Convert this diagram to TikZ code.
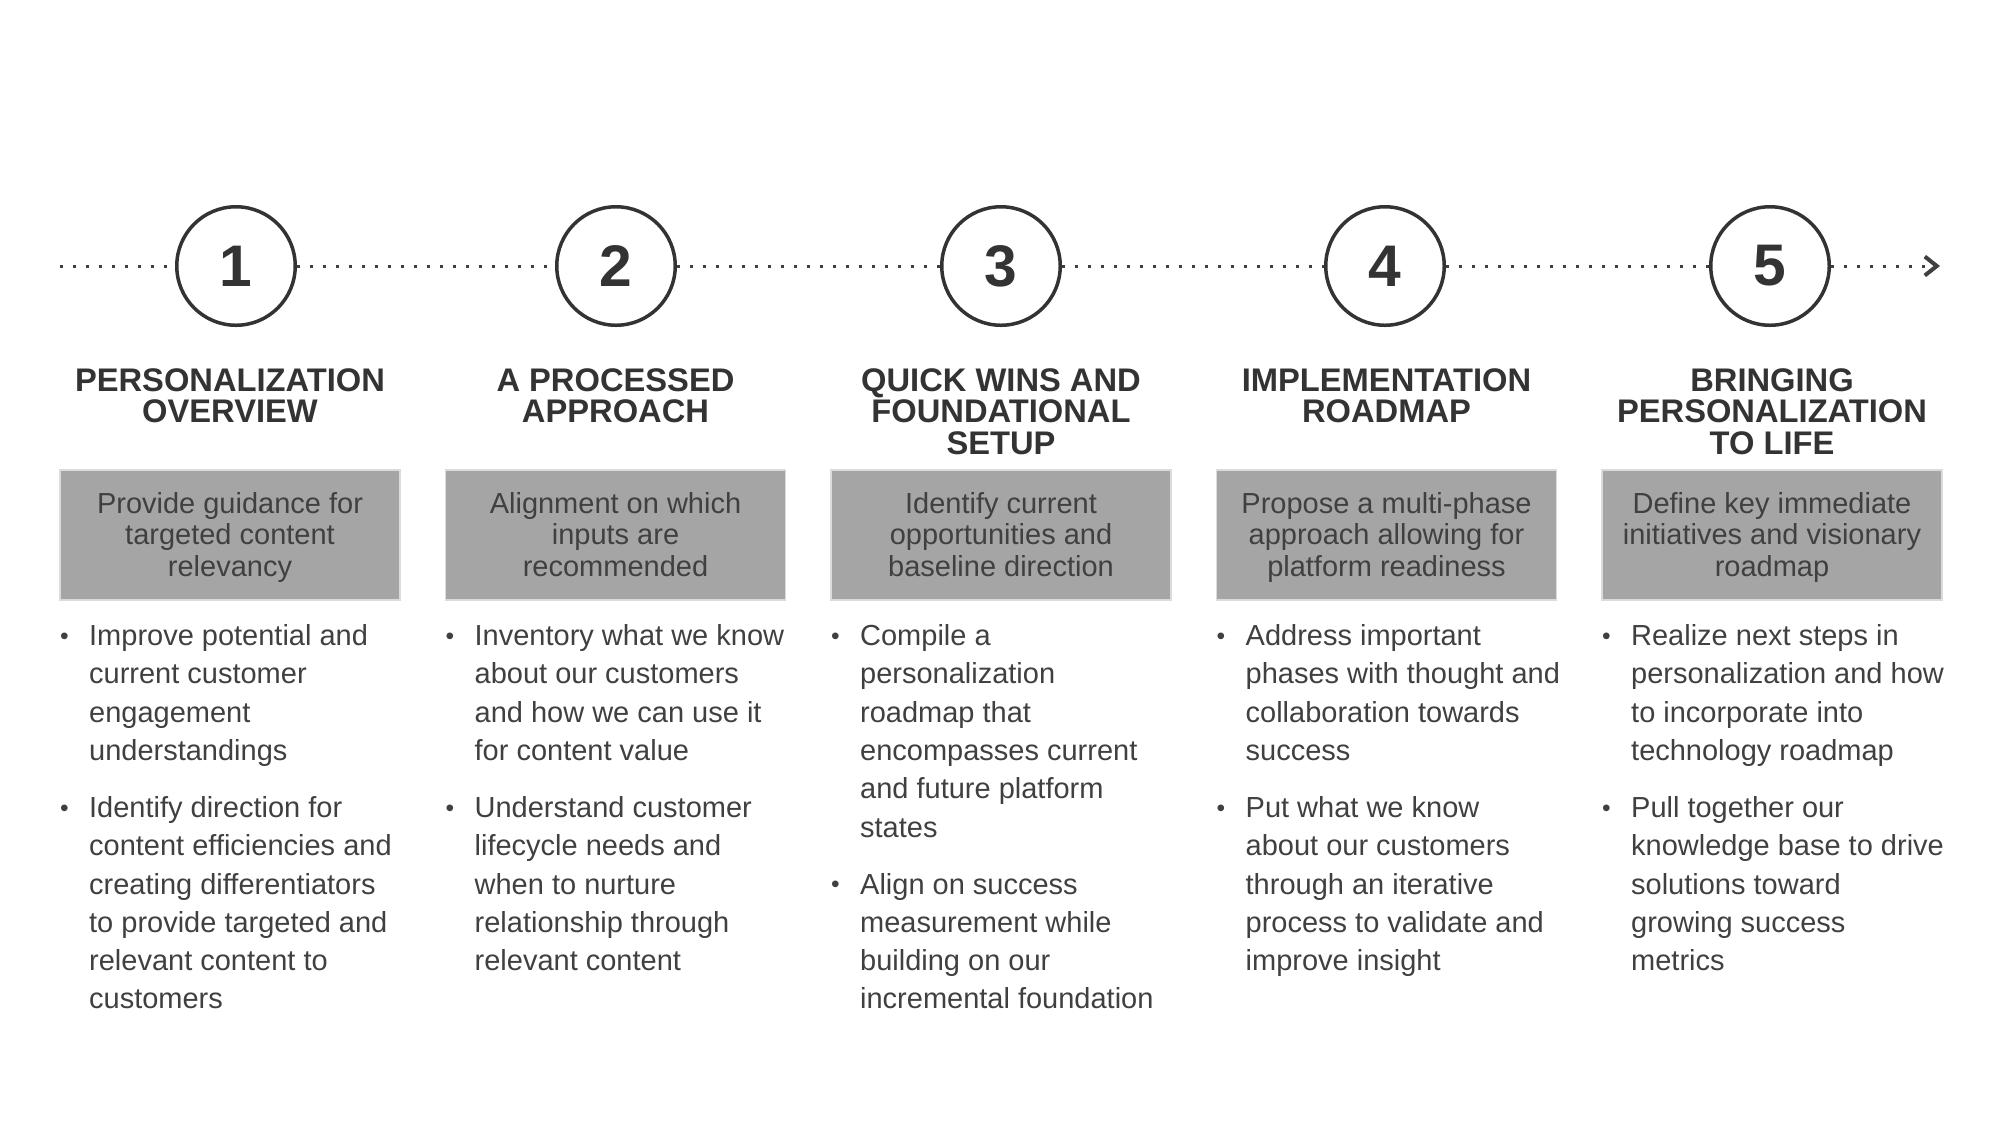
\documentclass[tikz,border=0pt]{standalone}
\usepackage{fontspec}
\setmainfont{Liberation Sans}
\usetikzlibrary{arrows.meta}
\definecolor{inkdark}{HTML}{333333}
\definecolor{inktext}{HTML}{404040}
\definecolor{boxgrey}{HTML}{A5A5A5}
\def\bul{\makebox[0.29cm][l]{\fontsize{7}{7}\selectfont\raisebox{0.3pt}{\textbullet}}}
\tikzset{
	numcirc/.style={circle, draw=inkdark, line width=0.035cm, minimum size=1.185cm, inner sep=0pt, text=inkdark, font=\fontsize{16.7}{20}\selectfont\bfseries},
	headline/.style={anchor=north, align=center, inner sep=0pt, text=inkdark, font=\fontsize{9.3}{8.96}\selectfont\bfseries},
	greybox/.style={fill=boxgrey, draw=black!14, line width=0.3pt, minimum width=3.4cm, minimum height=1.3cm, inner sep=0pt},
	boxtext/.style={anchor=north, align=center, inner sep=0pt, text=inktext, font=\fontsize{8.25}{8.96}\selectfont},
	bulletlist/.style={anchor=base west, inner sep=0pt, text=inktext, font=\fontsize{8.25}{10.9}\selectfont},
	dotline/.style={draw=inktext, line width=0.03cm, dash pattern=on 0.03cm off 0.10cm}
}

\begin{document}
\begin{tikzpicture}
		%%%%% START %%%%%
		\useasboundingbox (0, 0) rectangle (20, -11.25);
		
		\node[numcirc] (c1) at (2.36, -2.66) {1};
		\node[numcirc] (c2) at (6.16, -2.66) {2};
		\node[numcirc] (c3) at (10.01, -2.66) {3};
		\node[numcirc] (c4) at (13.85, -2.66) {4};
		\node[numcirc] (c5) at (17.70, -2.66) {5};
		\coordinate (tl start) at (0.60, -2.66);
		\coordinate (tl end) at (19.40, -2.66);
		
		\draw[dotline] (tl start) -- (c1);
		\draw[dotline] (c1) -- (c2);
		\draw[dotline] (c2) -- (c3);
		\draw[dotline] (c3) -- (c4);
		\draw[dotline] (c4) -- (c5);
		\draw[dotline, -{Straight Barb[length=0.12cm, width=0.19cm, line width=0.04cm]}] (c5) -- (tl end);
		
		\node[headline] (h1) at (2.30, -3.678) {PERSONALIZATION\\OVERVIEW};
		\node[headline] (h2) at (6.155, -3.678) {A PROCESSED\\APPROACH};
		\node[headline] (h3) at (10.01, -3.678) {QUICK WINS AND\\FOUNDATIONAL\\SETUP};
		\node[headline] (h4) at (13.865, -3.678) {IMPLEMENTATION\\ROADMAP};
		\node[headline] (h5) at (17.72, -3.678) {BRINGING\\PERSONALIZATION\\TO LIFE};
		
		\node[greybox] (b1) at (2.30, -5.35) {};
		\node[greybox] (b2) at (6.155, -5.35) {};
		\node[greybox] (b3) at (10.01, -5.35) {};
		\node[greybox] (b4) at (13.865, -5.35) {};
		\node[greybox] (b5) at (17.72, -5.35) {};
		
		\node[boxtext] (d1) at ([yshift=-0.22cm]b1.north) {Provide guidance for\\targeted content\\relevancy};
		\node[boxtext] (d2) at ([yshift=-0.22cm]b2.north) {Alignment on which\\inputs are\\recommended};
		\node[boxtext] (d3) at ([yshift=-0.22cm]b3.north) {Identify current\\opportunities and\\baseline direction};
		\node[boxtext] (d4) at ([yshift=-0.22cm]b4.north) {Propose a multi-phase\\approach allowing for\\platform readiness};
		\node[boxtext] (d5) at ([yshift=-0.22cm]b5.north) {Define key immediate\\initiatives and visionary\\roadmap};
		
		\node[bulletlist] (l1) at ([yshift=-0.45cm]b1.south west) {\begin{tabular}[t]{@{}l@{}l@{}}
			\bul & Improve potential and\\ & current customer\\ & engagement\\ & understandings\\[5.3pt]
			\bul & Identify direction for\\ & content efficiencies and\\ & creating differentiators\\ & to provide targeted and\\ & relevant content to\\ & customers
		\end{tabular}};
		\node[bulletlist] (l2) at ([yshift=-0.45cm]b2.south west) {\begin{tabular}[t]{@{}l@{}l@{}}
			\bul & Inventory what we know\\ & about our customers\\ & and how we can use it\\ & for content value\\[5.3pt]
			\bul & Understand customer\\ & lifecycle needs and\\ & when to nurture\\ & relationship through\\ & relevant content
		\end{tabular}};
		\node[bulletlist] (l3) at ([yshift=-0.45cm]b3.south west) {\begin{tabular}[t]{@{}l@{}l@{}}
			\bul & Compile a\\ & personalization\\ & roadmap that\\ & encompasses current\\ & and future platform\\ & states\\[5.3pt]
			\bul & Align on success\\ & measurement while\\ & building on our\\ & incremental foundation
		\end{tabular}};
		\node[bulletlist] (l4) at ([yshift=-0.45cm]b4.south west) {\begin{tabular}[t]{@{}l@{}l@{}}
			\bul & Address important\\ & phases with thought and\\ & collaboration towards\\ & success\\[5.3pt]
			\bul & Put what we know\\ & about our customers\\ & through an iterative\\ & process to validate and\\ & improve insight
		\end{tabular}};
		\node[bulletlist] (l5) at ([yshift=-0.45cm]b5.south west) {\begin{tabular}[t]{@{}l@{}l@{}}
			\bul & Realize next steps in\\ & personalization and how\\ & to incorporate into\\ & technology roadmap\\[5.3pt]
			\bul & Pull together our\\ & knowledge base to drive\\ & solutions toward\\ & growing success\\ & metrics
		\end{tabular}};
		
		%%%%% END %%%%%
	\end{tikzpicture}
\end{document}
